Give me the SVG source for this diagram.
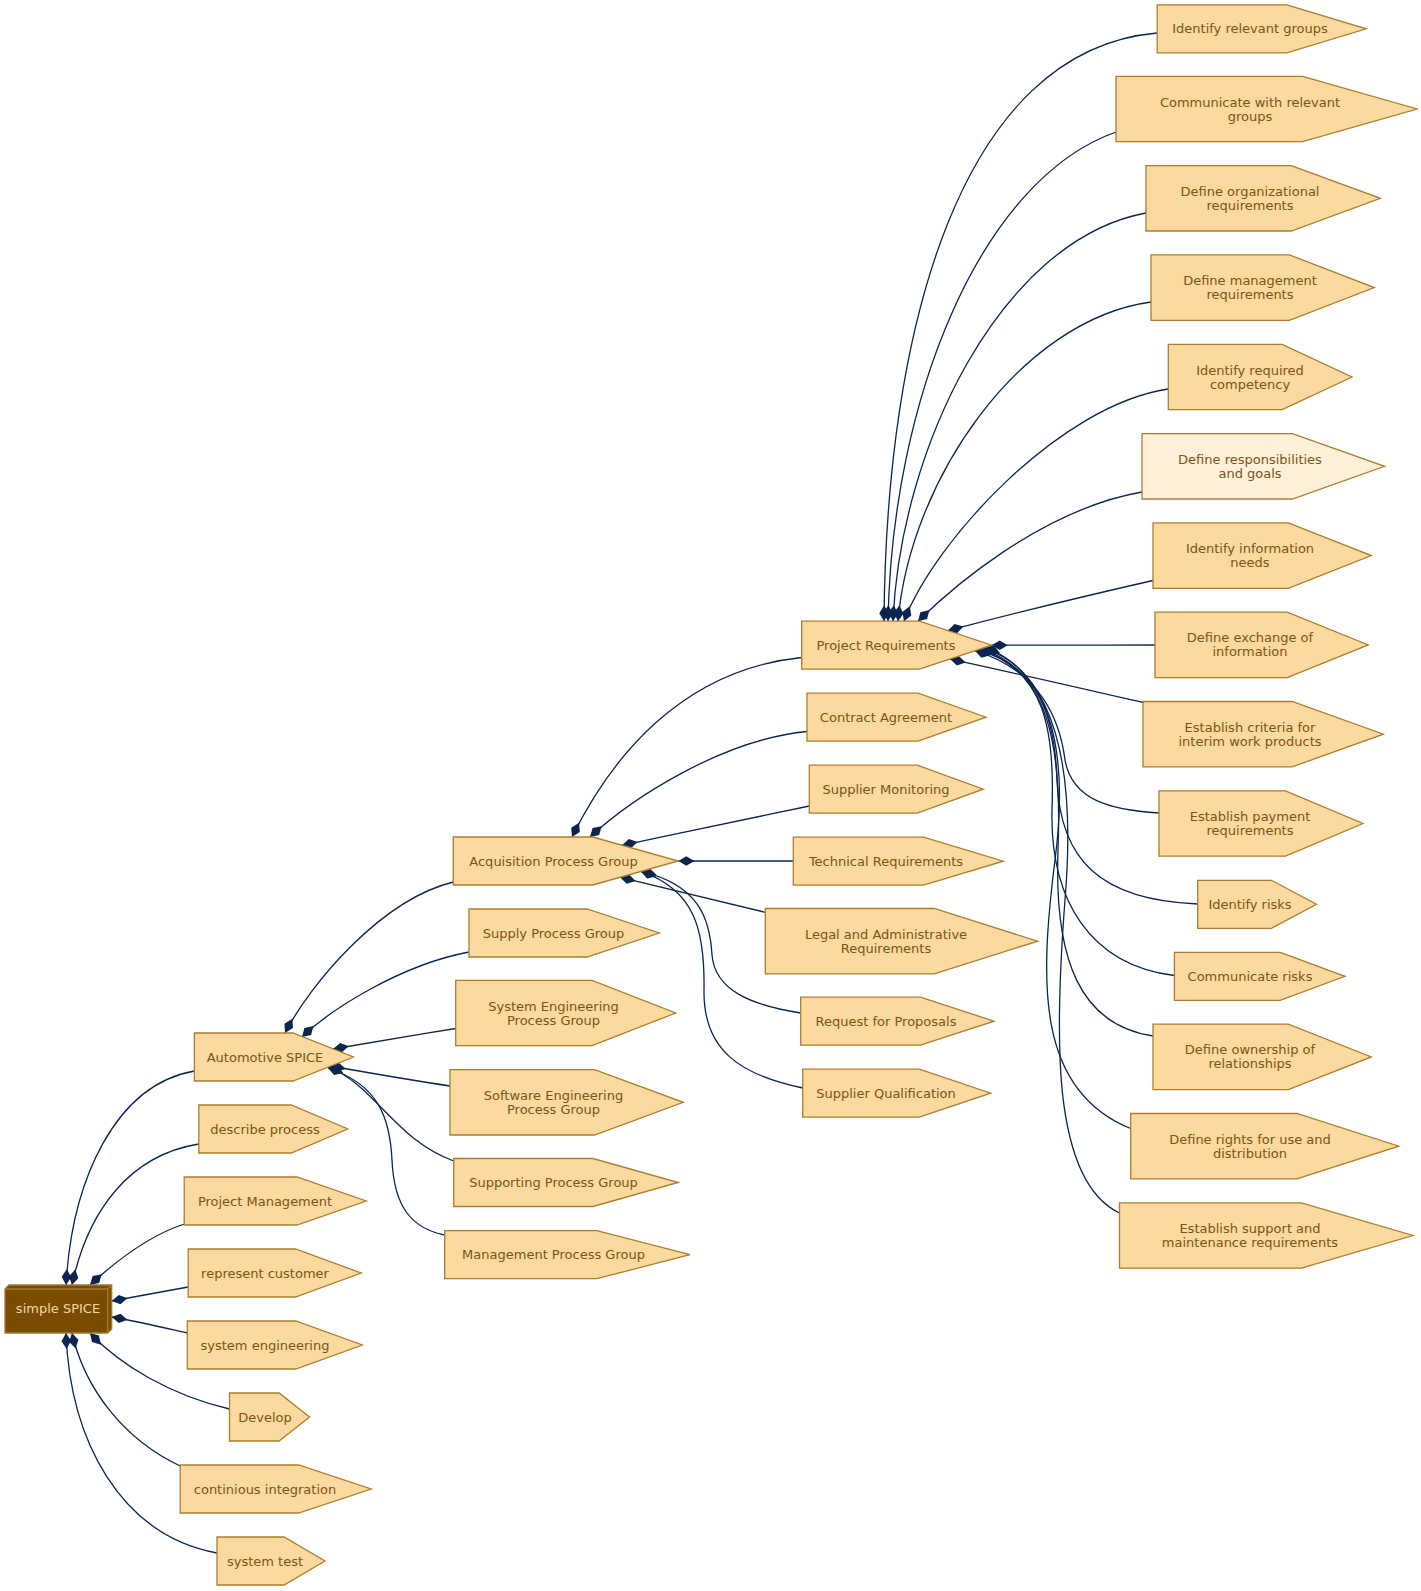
<svg xmlns="http://www.w3.org/2000/svg" width="1421" height="1591" viewBox="0 0 1421 1591">
<style>
.node polygon{fill:#FBD99F;stroke:#AD7D2D;stroke-width:1.3}
.node.pale polygon{fill:#FEF0D9}
.node text{font-family:"DejaVu Sans","Liberation Sans",sans-serif;font-size:13px;fill:#7D5414;text-anchor:middle}
#n_simple polygon{fill:#7A4C00;stroke:#A0783A}
#n_simple path{fill:none;stroke:#A0783A;stroke-width:1.3}
#n_simple text{fill:#F0D7AA}
#edges path{fill:none;stroke:#0A2550;stroke-width:1.3;marker-start:url(#dia)}
</style>
<defs>
<marker id="dia" viewBox="0 0 16 10" refX="0" refY="5" markerWidth="16" markerHeight="10" markerUnits="userSpaceOnUse" orient="auto">
<path d="M0,5 L8,0.2 L16,5 L8,9.8 Z" fill="#0A2550"/>
</marker>
</defs>
<rect width="1421" height="1591" fill="#FFFFFF"/>
<g id="edges">
<path d="M66,1285 C72,1180 115,1085 194.4,1071"/>
<path d="M72,1285 C88,1210 130,1155 198.8,1144"/>
<path d="M90,1285 C115,1262 150,1235 184.5,1224"/>
<path d="M111.7,1301 C140,1296 165,1291 188.2,1287"/>
<path d="M111.7,1317 C140,1322 165,1328 187.3,1333"/>
<path d="M90,1333 C120,1365 170,1395 229.5,1409"/>
<path d="M72,1333 C85,1390 125,1440 180.2,1466"/>
<path d="M66,1333 C70,1440 120,1535 217,1553"/>
<path d="M285,1033 C310,985 380,900 453.3,882"/>
<path d="M302,1037 C330,1010 400,965 469,952"/>
<path d="M333,1049 C375,1042 415,1035 455.7,1028.5"/>
<path d="M330,1066 C370,1073 410,1080 450,1086"/>
<path d="M328,1067 C375,1085 395,1140 453.7,1161"/>
<path d="M328,1068 C380,1085 390,1120 392,1160 C394,1205 410,1228 444.7,1235"/>
<path d="M572,837 C610,760 680,670 801.7,657.5"/>
<path d="M590,837 C630,800 720,740 807,731.5"/>
<path d="M622,845.3 C685,832 750,818 809.3,806"/>
<path d="M678.3,861 C720,861 760,861 793.3,861"/>
<path d="M620,877.2 C670,889 720,901 765.3,912.3"/>
<path d="M641,871.4 C700,885 710,920 712,955 C715,990 750,1005 800.7,1013"/>
<path d="M641,871.4 C695,890 705,930 704,990 C703,1050 740,1075 802.7,1088"/>
<path d="M884,621.2 C886,330 960,50 1157.2,33"/>
<path d="M888,621.2 C892,400 980,180 1116,132"/>
<path d="M893,621.2 C900,450 1000,240 1146,213"/>
<path d="M898,621.2 C910,480 1020,320 1151,302"/>
<path d="M904,621.2 C935,540 1060,405 1168.3,389"/>
<path d="M918,621.2 C950,590 1040,510 1142,492"/>
<path d="M948,630.6 C1015,613 1085,596 1153,580.5"/>
<path d="M991.7,645.2 C1040,645.2 1100,645 1155,645"/>
<path d="M950,659.1 C1015,673 1080,688 1143,702.5"/>
<path d="M975,650.8 C1040,670 1060,720 1065,760 C1072,800 1110,810 1159,813"/>
<path d="M977,650.1 C1040,665 1055,720 1057,780 C1060,860 1100,900 1197.7,904"/>
<path d="M979,649.4 C1045,670 1055,730 1052,810 C1050,900 1090,965 1174.4,975.5"/>
<path d="M981,648.8 C1050,670 1062,750 1058,850 C1054,960 1080,1025 1153,1036"/>
<path d="M983,648.1 C1055,670 1068,760 1055,860 C1040,980 1035,1090 1130.7,1128.5"/>
<path d="M985,647.4 C1060,675 1075,780 1065,900 C1055,1030 1050,1180 1119.5,1213"/>
</g>
<g id="n_simple" class="node">
<polygon points="5,1289 9,1285 111.7,1285 111.7,1329 107.7,1333 5,1333"/>
<path d="M5,1289 L107.7,1289 L111.7,1285 M107.7,1289 L107.7,1333"/>
<text x="58" y="1312.5">simple SPICE</text>
</g>
<g id="n_automotive" class="node"><polygon points="194.4,1033 293,1033 353.4,1057 293,1081 194.4,1081"/><text x="265" y="1061.5">Automotive SPICE</text></g>
<g id="n_describe" class="node"><polygon points="198.8,1105 291.2,1105 347.8,1129 291.2,1153 198.8,1153"/><text x="265" y="1133.5">describe process</text></g>
<g id="n_projmgmt" class="node"><polygon points="184.2,1177 297,1177 366.2,1201 297,1225 184.2,1225"/><text x="265" y="1205.5">Project Management</text></g>
<g id="n_represent" class="node"><polygon points="188.2,1249 295.5,1249 361.2,1273 295.5,1297 188.2,1297"/><text x="265" y="1277.5">represent customer</text></g>
<g id="n_syseng" class="node"><polygon points="187.3,1321 295.8,1321 362.3,1345 295.8,1369 187.3,1369"/><text x="265" y="1349.5">system engineering</text></g>
<g id="n_develop" class="node"><polygon points="229.5,1393 279.1,1393 309.5,1417 279.1,1441 229.5,1441"/><text x="265" y="1421.5">Develop</text></g>
<g id="n_ci" class="node"><polygon points="180.2,1465 298.6,1465 371.2,1489 298.6,1513 180.2,1513"/><text x="265" y="1493.5">continious integration</text></g>
<g id="n_systest" class="node"><polygon points="217,1537 284,1537 325,1561 284,1585 217,1585"/><text x="265" y="1565.5">system test</text></g>
<g id="n_acq" class="node"><polygon points="453.3,837 592.8,837 678.3,861 592.8,885 453.3,885"/><text x="553.5" y="865.5">Acquisition Process Group</text></g>
<g id="n_supply" class="node"><polygon points="469,909 587,909 659.3,933 587,957 469,957"/><text x="553.5" y="937.5">Supply Process Group</text></g>
<g id="n_sepg" class="node"><polygon points="455.7,980.3 592.1,980.3 675.7,1013 592.1,1045.7 455.7,1045.7"/><text x="553.5" y="1010.5">System Engineering</text><text x="553.5" y="1024.5">Process Group</text></g>
<g id="n_swepg" class="node"><polygon points="450,1069.6 594.6,1069.6 683.3,1102.3 594.6,1135 450,1135"/><text x="553.5" y="1099.8">Software Engineering</text><text x="553.5" y="1113.8">Process Group</text></g>
<g id="n_suppg" class="node"><polygon points="453.7,1158.5 593,1158.5 678.3,1182.5 593,1206.5 453.7,1206.5"/><text x="553.5" y="1187">Supporting Process Group</text></g>
<g id="n_mgmtpg" class="node"><polygon points="444.7,1230.7 596.8,1230.7 690,1254.7 596.8,1278.7 444.7,1278.7"/><text x="553.5" y="1259.2">Management Process Group</text></g>
<g id="n_projreq" class="node"><polygon points="801.7,621.2 919.5,621.2 991.7,645.2 919.5,669.2 801.7,669.2"/><text x="886" y="649.7">Project Requirements</text></g>
<g id="n_contract" class="node"><polygon points="807,693.2 918,693.2 986,717.2 918,741.2 807,741.2"/><text x="886" y="721.7">Contract Agreement</text></g>
<g id="n_suppmon" class="node"><polygon points="809.3,765.2 917.2,765.2 983.3,789.2 917.2,813.2 809.3,813.2"/><text x="886" y="793.7">Supplier Monitoring</text></g>
<g id="n_techreq" class="node"><polygon points="793.3,837.2 923.5,837.2 1003.3,861.2 923.5,885.2 793.3,885.2"/><text x="886" y="865.7">Technical Requirements</text></g>
<g id="n_legal" class="node"><polygon points="765.3,908.5 934.2,908.5 1037.7,941.2 934.2,973.9 765.3,973.9"/><text x="886" y="938.7">Legal and Administrative</text><text x="886" y="952.7">Requirements</text></g>
<g id="n_rfp" class="node"><polygon points="800.7,997.2 920.5,997.2 994,1021.2 920.5,1045.2 800.7,1045.2"/><text x="886" y="1025.7">Request for Proposals</text></g>
<g id="n_suppqual" class="node"><polygon points="802.7,1069.2 919.3,1069.2 990.7,1093.2 919.3,1117.2 802.7,1117.2"/><text x="886" y="1097.7">Supplier Qualification</text></g>
<g id="n_idgroups" class="node"><polygon points="1157.2,4.8 1286.8,4.8 1366.2,28.8 1286.8,52.8 1157.2,52.8"/><text x="1250" y="33.3">Identify relevant groups</text></g>
<g id="n_commgroups" class="node"><polygon points="1116,76.3 1302.6,76.3 1417,109 1302.6,141.7 1116,141.7"/><text x="1250" y="106.5">Communicate with relevant</text><text x="1250" y="120.5">groups</text></g>
<g id="n_orgreq" class="node"><polygon points="1146,165.6 1291.3,165.6 1380.4,198.3 1291.3,231 1146,231"/><text x="1250" y="195.8">Define organizational</text><text x="1250" y="209.8">requirements</text></g>
<g id="n_mgmtreq" class="node"><polygon points="1151,254.9 1289.4,254.9 1374.3,287.6 1289.4,320.3 1151,320.3"/><text x="1250" y="285.1">Define management</text><text x="1250" y="299.1">requirements</text></g>
<g id="n_competency" class="node"><polygon points="1168.3,344.3 1282.2,344.3 1352,377 1282.2,409.7 1168.3,409.7"/><text x="1250" y="374.5">Identify required</text><text x="1250" y="388.5">competency</text></g>
<g id="n_resp" class="node pale"><polygon points="1142,433.6 1292.4,433.6 1384.5,466.3 1292.4,499 1142,499"/><text x="1250" y="463.8">Define responsibilities</text><text x="1250" y="477.8">and goals</text></g>
<g id="n_infoneeds" class="node"><polygon points="1153,522.9 1288.3,522.9 1371.3,555.6 1288.3,588.3 1153,588.3"/><text x="1250" y="553.1">Identify information</text><text x="1250" y="567.1">needs</text></g>
<g id="n_exchange" class="node"><polygon points="1155,612.2 1287.2,612.2 1368.2,644.9 1287.2,677.6 1155,677.6"/><text x="1250" y="642.4">Define exchange of</text><text x="1250" y="656.4">information</text></g>
<g id="n_criteria" class="node"><polygon points="1143,701.5 1292,701.5 1383.4,734.2 1292,766.9 1143,766.9"/><text x="1250" y="731.7">Establish criteria for</text><text x="1250" y="745.7">interim work products</text></g>
<g id="n_payment" class="node"><polygon points="1159,790.8 1285.5,790.8 1363,823.5 1285.5,856.2 1159,856.2"/><text x="1250" y="821">Establish payment</text><text x="1250" y="835">requirements</text></g>
<g id="n_idrisks" class="node"><polygon points="1197.7,880.3 1271.4,880.3 1316.5,904.3 1271.4,928.3 1197.7,928.3"/><text x="1250" y="908.8">Identify risks</text></g>
<g id="n_commrisks" class="node"><polygon points="1174.4,952.3 1280.2,952.3 1345,976.3 1280.2,1000.3 1174.4,1000.3"/><text x="1250" y="980.8">Communicate risks</text></g>
<g id="n_ownership" class="node"><polygon points="1153,1024.2 1288.3,1024.2 1371.3,1056.9 1288.3,1089.6 1153,1089.6"/><text x="1250" y="1054.4">Define ownership of</text><text x="1250" y="1068.4">relationships</text></g>
<g id="n_rights" class="node"><polygon points="1130.7,1113.5 1296.9,1113.5 1398.7,1146.2 1296.9,1178.9 1130.7,1178.9"/><text x="1250" y="1143.7">Define rights for use and</text><text x="1250" y="1157.7">distribution</text></g>
<g id="n_support" class="node"><polygon points="1119.5,1202.8 1301.4,1202.8 1412.9,1235.5 1301.4,1268.2 1119.5,1268.2"/><text x="1250" y="1233">Establish support and</text><text x="1250" y="1247">maintenance requirements</text></g>
</svg>
